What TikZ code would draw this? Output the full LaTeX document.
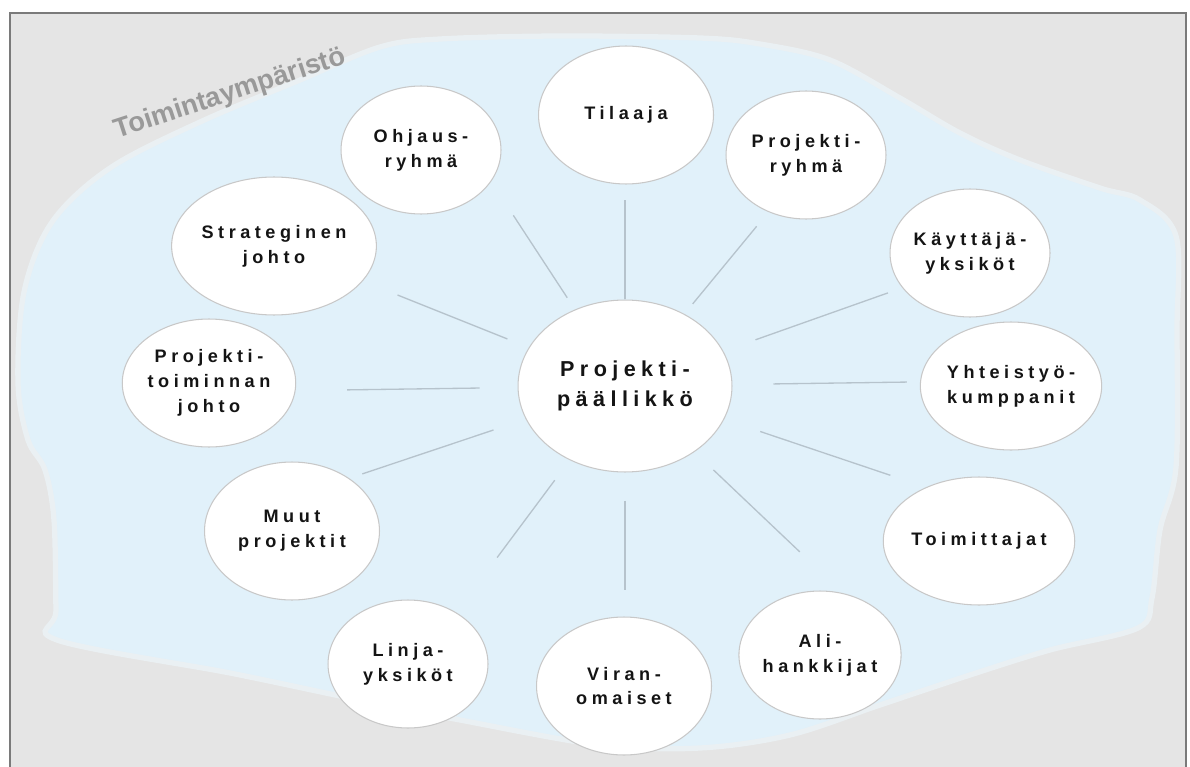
\documentclass[tikz,border=0pt]{standalone}
\usepackage{fontspec}
\setmainfont{Liberation Sans}
\newfontfamily\spacedsans[LetterSpace=25]{Liberation Sans}
\usetikzlibrary{shapes.geometric,calc}

\definecolor{envgray}{HTML}{E5E5E5}
\definecolor{envblue}{HTML}{E1F1FA}
\definecolor{envedge}{HTML}{EAF0F3}
\definecolor{framegray}{HTML}{7A7A7A}
\definecolor{ovalline}{HTML}{C8C8C8}
\definecolor{spokeline}{HTML}{B6C3CC}
\definecolor{titlegray}{HTML}{999999}

\begin{document}
\begin{tikzpicture}[x=0.02cm,y=0.02cm,
  party/.style={ellipse, draw=ovalline, line width=0.6pt, fill=white,
    inner sep=0pt, align=center, text=black!92,
    font=\spacedsans\bfseries\fontsize{10.3}{14.2}\selectfont},
  std/.style={party, minimum width=3.2cm, minimum height=2.56cm},
  big/.style={party, minimum width=3.5cm, minimum height=2.76cm},
  hub/.style={party, minimum width=4.28cm, minimum height=3.44cm,
    font=\spacedsans\bfseries\fontsize{12.3}{17}\selectfont},
  spoke/.style={draw=spokeline, line width=0.75pt},
  envlabel/.style={text=titlegray, rotate=18,
    font=\bfseries\fontsize{15.5}{18}\selectfont}]

\useasboundingbox (0,0) rectangle (1190,-767);

% paper and framed grey surroundings
\fill[white] (0,0) rectangle (1190,-767);
\fill[envgray] (10,-13) rectangle (1186,-790);

% light blue operating area with a soft rim
\filldraw[fill=envblue, draw=envedge, line width=3pt]
  plot[smooth cycle, tension=0.55] coordinates {
    (57,-640) (230,-673) (345,-697) (460,-720) (600,-745) (700,-748)
    (790,-735) (880,-705) (970,-675) (1050,-650) (1138,-628) (1152,-598)
    (1160,-530) (1176,-467) (1177,-330) (1176,-236) (1140,-200)
    (1100,-188) (1020,-160) (960,-133) (900,-98) (830,-60) (760,-44)
    (700,-38) (560,-36) (440,-39) (380,-47) (300,-80) (200,-122)
    (110,-168) (52,-222) (24,-292) (18,-383) (28,-440) (45,-470)
    (54,-520) (56,-610)};

\draw[framegray, line width=1.2pt] (10,-790) -- (10,-13) -- (1186,-13) -- (1186,-790);

\node[envlabel] (env) at (230,-94) {Toimintaympäristö};

% project manager in the middle
\node[hub] (c) at (625,-386) {Projekti-\\päällikkö};

% stakeholders around the project manager
\node[big] (til) at (626,-115) {Tilaaja};
\node[std] (ohj) at (421,-150) {Ohjaus-\\ryhmä};
\node[std] (pry) at (806,-155) {Projekti-\\ryhmä};
\node[big] (str) at (274,-246) {Strateginen\\johto};
\node[std] (kay) at (970,-253) {Käyttäjä-\\yksiköt};
\node[std] (ptj) at (209,-383) {Projekti-\\toiminnan\\johto};
\node[std] (yht) at (1011,-386) {Yhteistyö-\\kumppanit};
\node[big] (muu) at (292,-531) {Muut\\projektit};
\node[std] (toi) at (979,-541) {Toimittajat};
\node[std] (lin) at (408,-664) {Linja-\\yksiköt};
\node[std] (ali) at (820,-655) {Ali-\\hankkijat};
\node[big] (vir) at (624,-686) {Viran-\\omaiset};

% radial spokes from the project manager
\foreach \n/\a/\r/\g in {til/90/186/0, pry/50.5/207/13, kay/19.5/279/34,
    yht/0.8/282/41, toi/-18.6/280/38, ali/-43.5/241/26, vir/-90/204/28,
    lin/233.3/214/25, muu/198.5/277/34, ptj/180.8/278/38,
    str/158.2/245/23, ohj/123.2/204/14} {
  \coordinate (end-\n) at ($(c)+(\a:\r)$);
  \draw[spoke, shorten <=\g*0.02cm] (c) -- (end-\n);
}
\end{tikzpicture}
\end{document}
